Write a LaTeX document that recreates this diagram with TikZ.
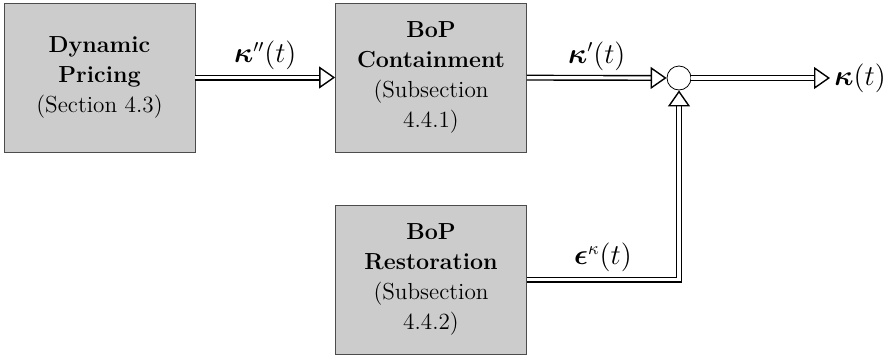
\documentclass[tikz,border=0pt]{standalone}
\usepackage{bm}
\usetikzlibrary{arrows.meta}
\tikzset{
  block/.style={draw=black!70, fill=gray!40, minimum width=95.5pt, minimum height=74.5pt,
    align=center, font=\fontsize{11.6}{15}\selectfont},
  dblarrow/.style={double, double distance=1.6pt, line width=0.7pt,
    -{Triangle[open, length=8pt, width=11pt]}},
  siglabel/.style={font=\fontsize{13.5}{16}\selectfont},
}
\begin{document}
\begin{tikzpicture}[x=0.5pt, y=0.5pt]
    \useasboundingbox (0,0) rectangle (888,355);

    \node[block] (pricing) at (99.5,277.5) {\textbf{Dynamic}\\\textbf{Pricing}\\(Section 4.3)};
    \node[block] (contain) at (431,277.5) {\textbf{BoP}\\\textbf{Containment}\\(Subsection\\4.4.1)};
    \node[block] (restore) at (431,75.5) {\textbf{BoP}\\\textbf{Restoration}\\(Subsection\\4.4.2)};

    \node[draw, circle, minimum size=12pt, inner sep=0pt] (sum) at (679,277) {};
    \coordinate (out) at (830,277);
    \node[siglabel, anchor=west, inner sep=2pt] (kappa) at (out) {$\bm{\kappa}(t)$};

    \draw[dblarrow] (pricing) -- node[siglabel, above]{$\bm{\kappa}''(t)$} (contain);
    \draw[dblarrow] (contain) -- node[siglabel, above]{$\bm{\kappa}'(t)$} (sum);
    \draw[dblarrow] (sum) -- (out);
    \draw[dblarrow] (restore) -| node[siglabel, pos=0.25, above]{$\bm{\epsilon}^{\kappa}(t)$} (sum);
\end{tikzpicture}
\end{document}
